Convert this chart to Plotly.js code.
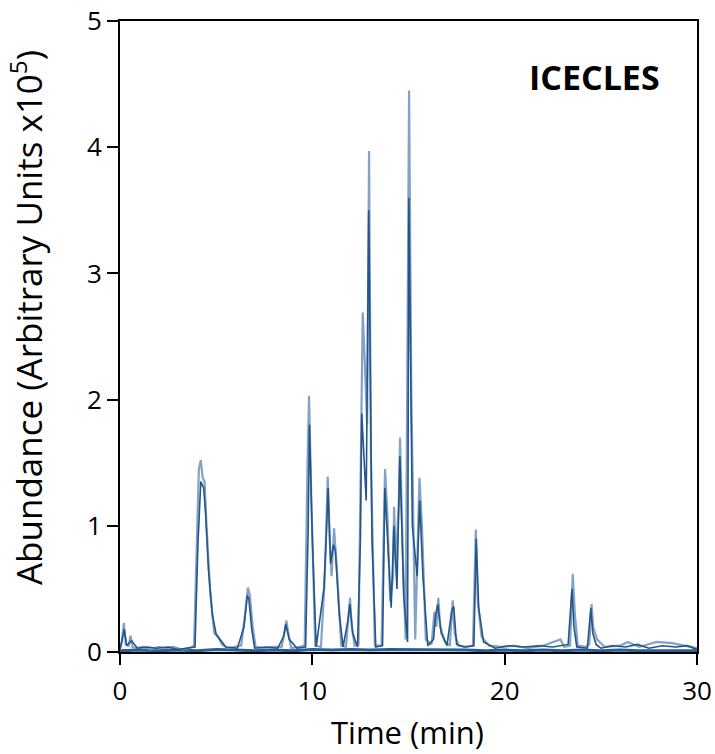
<!DOCTYPE html>
<html>
<head>
<meta charset="utf-8">
<script src="https://cdn.plot.ly/plotly-3.0.1.min.js"></script>
<style>
  html, body { margin: 0; padding: 0; background: #ffffff; }
  #chart { width: 715px; height: 754px; }
</style>
</head>
<body>
<div id="chart"></div>
<script>
// Retention time (min) and abundance (x10^5)
const timeLight = [0, 0.1, 0.2, 0.3, 0.45, 0.55, 0.65, 0.8, 1.2, 1.6, 2.0, 2.4, 2.8, 3.2, 3.6, 3.85, 4.0, 4.1, 4.2, 4.3, 4.4, 4.5, 4.7, 4.9, 5.1, 5.3, 5.6, 6.0, 6.3, 6.5, 6.65, 6.75, 6.9, 7.05, 7.5, 8.0, 8.4, 8.55, 8.65, 8.75, 8.9, 9.3, 9.6, 9.75, 9.83, 9.95, 10.15, 10.45, 10.65, 10.8, 10.9, 11.0, 11.13, 11.3, 11.5, 11.75, 11.9, 11.96, 12.05, 12.2, 12.4, 12.55, 12.62, 12.7, 12.85, 12.95, 13.05, 13.25, 13.6, 13.78, 13.9, 14.05, 14.2, 14.25, 14.35, 14.5, 14.56, 14.7, 14.85, 15.03, 15.15, 15.35, 15.5, 15.57, 15.7, 15.9, 16.2, 16.35, 16.45, 16.55, 16.65, 16.9, 17.15, 17.3, 17.4, 17.6, 18.0, 18.35, 18.5, 18.6, 18.8, 19.2, 19.8, 20.5, 21.2, 22.0, 22.9, 23.1, 23.4, 23.54, 23.65, 23.8, 24.2, 24.4, 24.52, 24.6, 24.8, 25.2, 26.0, 26.4, 27.0, 27.9, 28.7, 29.3, 30];
const abundLight = [0.03, 0.08, 0.23, 0.06, 0.05, 0.13, 0.04, 0.03, 0.04, 0.02, 0.04, 0.03, 0.04, 0.02, 0.03, 0.05, 0.9, 1.45, 1.52, 1.38, 1.35, 1.0, 0.45, 0.15, 0.12, 0.06, 0.03, 0.04, 0.05, 0.3, 0.51, 0.45, 0.2, 0.04, 0.03, 0.04, 0.04, 0.15, 0.25, 0.15, 0.03, 0.04, 0.05, 1.5, 2.03, 1.2, 0.05, 0.04, 0.6, 1.39, 0.9, 0.6, 0.98, 0.6, 0.05, 0.04, 0.3, 0.43, 0.2, 0.05, 0.06, 1.9, 2.69, 2.4, 1.8, 3.97, 1.5, 0.05, 0.05, 1.45, 1.1, 0.4, 0.6, 1.15, 0.7, 1.2, 1.70, 0.8, 0.1, 4.45, 2.0, 0.1, 1.0, 1.38, 1.0, 0.1, 0.06, 0.32, 0.2, 0.43, 0.2, 0.08, 0.05, 0.41, 0.15, 0.05, 0.04, 0.05, 0.97, 0.4, 0.12, 0.05, 0.04, 0.05, 0.03, 0.05, 0.1, 0.04, 0.05, 0.62, 0.3, 0.05, 0.04, 0.06, 0.38, 0.2, 0.1, 0.04, 0.05, 0.08, 0.04, 0.08, 0.07, 0.05, 0.03];

const timeDark = [0, 0.15, 0.22, 0.35, 0.6, 0.9, 1.4, 1.9, 2.5, 3.0, 3.5, 3.9, 4.05, 4.2, 4.35, 4.45, 4.6, 4.8, 5.0, 5.2, 5.5, 6.1, 6.45, 6.62, 6.7, 6.85, 7.0, 7.6, 8.2, 8.5, 8.62, 8.8, 9.2, 9.65, 9.78, 9.85, 10.0, 10.2, 10.6, 10.72, 10.82, 10.95, 11.1, 11.2, 11.4, 11.6, 11.85, 11.95, 12.1, 12.35, 12.5, 12.57, 12.68, 12.8, 12.93, 13.1, 13.3, 13.65, 13.77, 13.95, 14.1, 14.24, 14.4, 14.55, 14.75, 14.95, 15.02, 15.2, 15.45, 15.58, 15.75, 16.0, 16.3, 16.4, 16.52, 16.7, 17.0, 17.25, 17.35, 17.5, 17.9, 18.4, 18.52, 18.65, 18.9, 19.5, 20.2, 21.0, 21.8, 22.5, 23.3, 23.5, 23.6, 23.75, 24.3, 24.48, 24.58, 24.75, 25.0, 25.6, 26.3, 26.9, 27.5, 28.2, 28.9, 29.5, 30];
const abundDark = [0.02, 0.12, 0.18, 0.05, 0.09, 0.03, 0.04, 0.03, 0.04, 0.02, 0.03, 0.04, 0.85, 1.35, 1.3, 1.1, 0.65, 0.3, 0.14, 0.1, 0.04, 0.03, 0.2, 0.45, 0.42, 0.18, 0.03, 0.04, 0.03, 0.12, 0.22, 0.1, 0.03, 0.04, 0.95, 1.8, 0.9, 0.04, 0.5, 0.9, 1.3, 0.7, 0.85, 0.8, 0.3, 0.04, 0.25, 0.38, 0.15, 0.04, 0.9, 1.89, 1.5, 1.2, 3.5, 0.9, 0.04, 0.05, 1.3, 0.8, 0.35, 1.0, 0.5, 1.55, 0.45, 0.08, 3.6, 1.0, 0.6, 1.2, 0.6, 0.05, 0.1, 0.28, 0.38, 0.15, 0.05, 0.33, 0.36, 0.06, 0.04, 0.05, 0.9, 0.35, 0.08, 0.03, 0.05, 0.04, 0.05, 0.04, 0.06, 0.5, 0.2, 0.04, 0.03, 0.35, 0.15, 0.06, 0.03, 0.05, 0.04, 0.06, 0.03, 0.05, 0.04, 0.05, 0.02];

const timeBase = [0, 1.0, 2.0, 3.0, 4.0, 5.0, 6.0, 7.0, 8.0, 9.0, 10.0, 11.0, 12.0, 13.0, 14.0, 15.0, 16.0, 17.0, 18.0, 19.0, 20.0, 21.0, 22.0, 23.0, 24.0, 25.0, 26.0, 27.0, 28.0, 29.0, 30.0];
const abundBase = [0.01, 0.015, 0.01, 0.015, 0.01, 0.02, 0.015, 0.01, 0.015, 0.01, 0.02, 0.015, 0.02, 0.015, 0.02, 0.02, 0.015, 0.02, 0.015, 0.01, 0.015, 0.01, 0.015, 0.01, 0.015, 0.01, 0.015, 0.01, 0.01, 0.015, 0.01];

const xTicks = [0, 10, 20, 30];
const yTicks = [0, 1, 2, 3, 4, 5];

const traces = [
  { x: timeBase, y: abundBase, type: 'scatter', mode: 'lines', line: { color: '#2a5d94', width: 3 }, hoverinfo: 'skip', showlegend: false },
  { x: timeLight, y: abundLight, type: 'scatter', mode: 'lines', line: { color: 'rgba(120,152,192,0.9)', width: 2.2 }, showlegend: false },
  { x: timeDark, y: abundDark, type: 'scatter', mode: 'lines', line: { color: '#24558a', width: 1.6 }, showlegend: false }
];

const fontFam = '"Open Sans", "DejaVu Sans", sans-serif';

const layout = {
  width: 715, height: 754,
  margin: { l: 120, r: 18, t: 21, b: 102 },
  paper_bgcolor: '#ffffff', plot_bgcolor: '#ffffff',
  showlegend: false,
  xaxis: {
    range: [0, 30], tickvals: xTicks, ticktext: xTicks.map(String),
    ticks: 'outside', ticklen: 11, tickwidth: 2, tickcolor: '#000',
    showline: true, linecolor: '#000', linewidth: 2, mirror: true,
    showgrid: false, zeroline: false, ticklabelstandoff: 4,
    tickfont: { family: fontFam, size: 26, color: '#000' }
  },
  yaxis: {
    range: [0, 5], tickvals: yTicks, ticktext: yTicks.map(String),
    ticks: 'outside', ticklen: 11, tickwidth: 2, tickcolor: '#000',
    showline: true, linecolor: '#000', linewidth: 2, mirror: true,
    showgrid: false, zeroline: false,
    tickfont: { family: fontFam, size: 26, color: '#000' }
  },
  annotations: [
    {
      text: '<b>ICECLES</b>', xref: 'paper', yref: 'paper', x: 0.939, y: 0.911,
      xanchor: 'right', yanchor: 'middle', showarrow: false,
      font: { family: fontFam, size: 34, color: '#000' }
    },
    {
      text: 'Time (min)', xref: 'paper', yref: 'paper', x: 0.498, y: -0.127,
      xanchor: 'center', yanchor: 'middle', showarrow: false,
      font: { family: fontFam, size: 31, color: '#000' }
    },
    {
      text: 'Abundance (Arbitrary Units x10<sup>5</sup>)', xref: 'paper', yref: 'paper', x: -0.162, y: 0.53,
      xanchor: 'center', yanchor: 'middle', showarrow: false, textangle: -90,
      font: { family: fontFam, size: 35, color: '#000' }
    }
  ]
};

Plotly.newPlot('chart', traces, layout, { displayModeBar: false, staticPlot: true });
</script>
</body>
</html>
